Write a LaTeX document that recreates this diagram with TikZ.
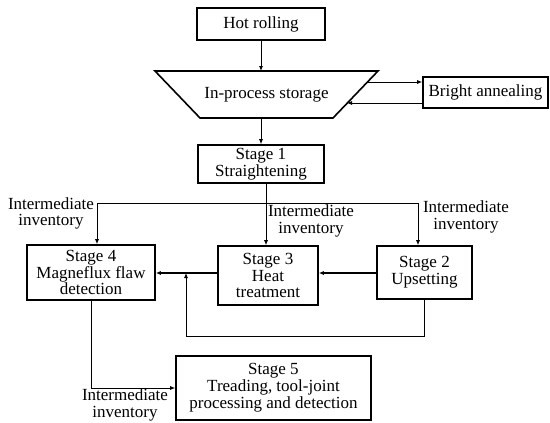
\documentclass[tikz,border=0pt]{standalone}
\usepackage{fontspec}
\setmainfont{Liberation Serif}
\usetikzlibrary{arrows.meta}
\begin{document}
\begin{tikzpicture}[x=1pt,y=-1pt,
  box/.style={draw,line width=1.6pt,align=center,inner sep=0pt,font=\fontsize{17}{16.8}\selectfont},
  trap/.style={draw,line width=1.6pt},
  lbl/.style={align=center,inner sep=0pt,font=\fontsize{17}{16.8}\selectfont},
  conn/.style={line width=0.8pt,-{Latex[length=5pt,width=4pt]}},
  thickconn/.style={line width=1.3pt,-{Latex[length=5pt,width=4pt]}},
  plain/.style={line width=0.8pt}]
\useasboundingbox (0,0) rectangle (550,423);
% nodes
\node[box,minimum width=128pt,minimum height=32pt] (hot) at (261,24) {Hot rolling};
\draw[trap] (155,71) coordinate (tl) -- (378,71) coordinate (tr) -- (333,118) coordinate (br) -- (200,118) coordinate (bl) -- cycle;
\node[lbl] (store) at (266.5,95) {In-process storage};
\coordinate (tout) at (367.5,82);
\coordinate (tin) at (347,103);
\node[box,minimum width=125pt,minimum height=31pt] (bright) at (485.5,92.5) {Bright annealing};
\node[box,minimum width=126pt,minimum height=38pt] (s1) at (261,164) {Stage 1\\Straightening};
\node[box,minimum width=128pt,minimum height=55pt] (s4) at (91,272.5) {Stage 4\\Magneflux flaw\\detection};
\node[box,minimum width=100pt,minimum height=59pt] (s3) at (268,275.5) {Stage 3\\Heat\\treatment};
\node[box,minimum width=95pt,minimum height=53pt] (s2) at (424.5,272.5) {Stage 2\\Upsetting};
\node[box,minimum width=195pt,minimum height=64pt] (s5) at (273.5,388) {Stage 5\\Treading, tool-joint\\processing and detection};
% labels
\node[lbl] (l1) at (51,213.5) {Intermediate\\inventory};
\node[lbl] (l2) at (311,221) {Intermediate\\inventory};
\node[lbl] (l3) at (466,217) {Intermediate\\inventory};
\node[lbl] (l4) at (125,405) {Intermediate\\inventory};
% connectors
\draw[conn] (hot.south) -- (hot.south |- tl);
\draw[conn] (tout) -- (tout -| bright.west);
\draw[conn] (bright.west |- tin) -- (tin);
\draw[conn] (s1.north |- bl) -- (s1.north);
\coordinate (j) at (266,203);
\coordinate (jl) at (97,203);
\coordinate (jr) at (418,203);
\draw[plain] (j |- s1.south) -- (j);
\draw[plain] (jl) -- (jr);
\draw[conn] (jl) -- (jl |- s4.north);
\draw[conn] (j) -- (j |- s3.north);
\draw[conn] (jr) -- (jr |- s2.north);
\coordinate (ay) at (0,273);
\draw[thickconn] (s2.west |- ay) -- (s3.east |- ay);
\draw[thickconn] (s3.west |- ay) -- (s4.east |- ay);
\coordinate (lp) at (186,336);
\draw[conn] (s2.south) |- (lp) -- (lp |- ay);
\draw[conn] (s4.south) |- (s5.west);
\end{tikzpicture}
\end{document}
